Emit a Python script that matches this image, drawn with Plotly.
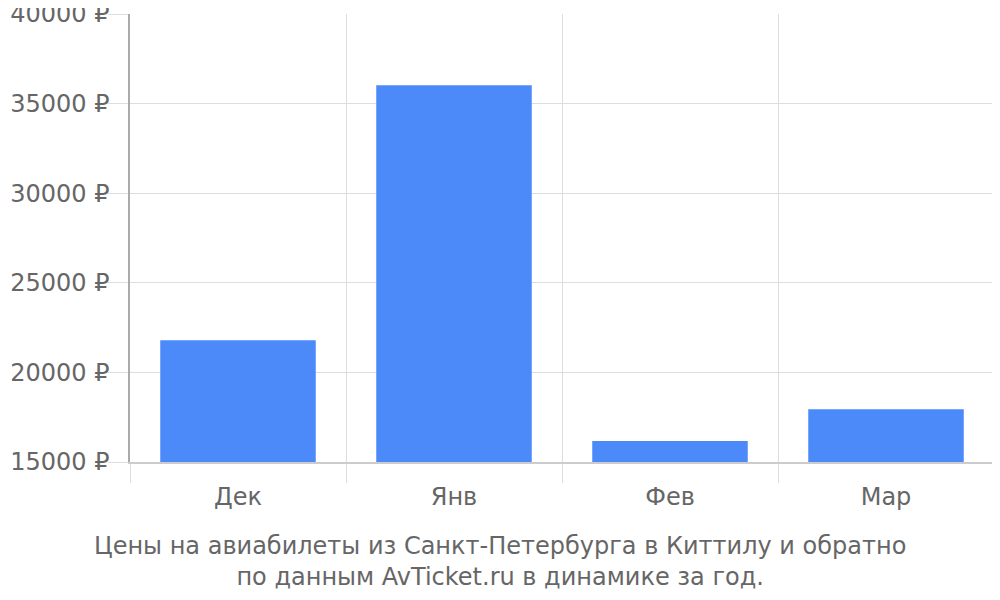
import plotly.graph_objects as go

# цены по месяцам
months = ["Дек", "Янв", "Фев", "Мар"]
prices = [21800, 36030, 16170, 17950]
y_ticks = [15000, 20000, 25000, 30000, 35000, 40000]
y_labels = [f"{v} ₽" for v in y_ticks]

caption = ("Цены на авиабилеты из Санкт-Петербурга в Киттилу и обратно<br>"
           "по данным AvTicket.ru в динамике за год.")

fig = go.Figure(go.Bar(
    x=months, y=prices,
    marker=dict(color="#4d8af9", line=dict(width=0)),
    width=0.72,
))

# страница сдвигает график на 8px (отступ body), поэтому поля чуть меньше
fig.update_layout(
    width=1000, height=600,
    margin=dict(l=122, r=14, t=6, b=146, autoexpand=False),
    paper_bgcolor="white", plot_bgcolor="white",
    font=dict(family="DejaVu Sans", size=24, color="#666666"),
    showlegend=False,
)

# подпись под графиком
fig.add_annotation(
    text=caption, showarrow=False,
    xref="paper", yref="paper", x=0.428, y=-0.221,
    xanchor="center", yanchor="middle", align="center",
    font=dict(size=24, color="#666666"),
)

fig.update_xaxes(
    type="category", tickson="boundaries", automargin=False,
    showgrid=True, gridcolor="#dddddd", gridwidth=1,
    ticks="outside", ticklen=19, tickcolor="#dddddd", tickwidth=1,
    ticklabelstandoff=12,
    showline=True, linecolor="#cccccc", linewidth=1.5,
    tickfont=dict(size=24, color="#666666"),
    zeroline=False,
)
fig.update_yaxes(
    range=[15000, 40000], tickvals=y_ticks, ticktext=y_labels, automargin=False,
    showgrid=True, gridcolor="#dddddd", gridwidth=1,
    ticks="outside", ticklen=20, tickcolor="#dddddd", tickwidth=1,
    ticklabelstandoff=-6, ticklabeloverflow="allow",
    showline=True, linecolor="#aaaaaa", linewidth=1.5,
    tickfont=dict(size=24, color="#666666"),
    zeroline=False,
)

fig.write_html("out.html")
